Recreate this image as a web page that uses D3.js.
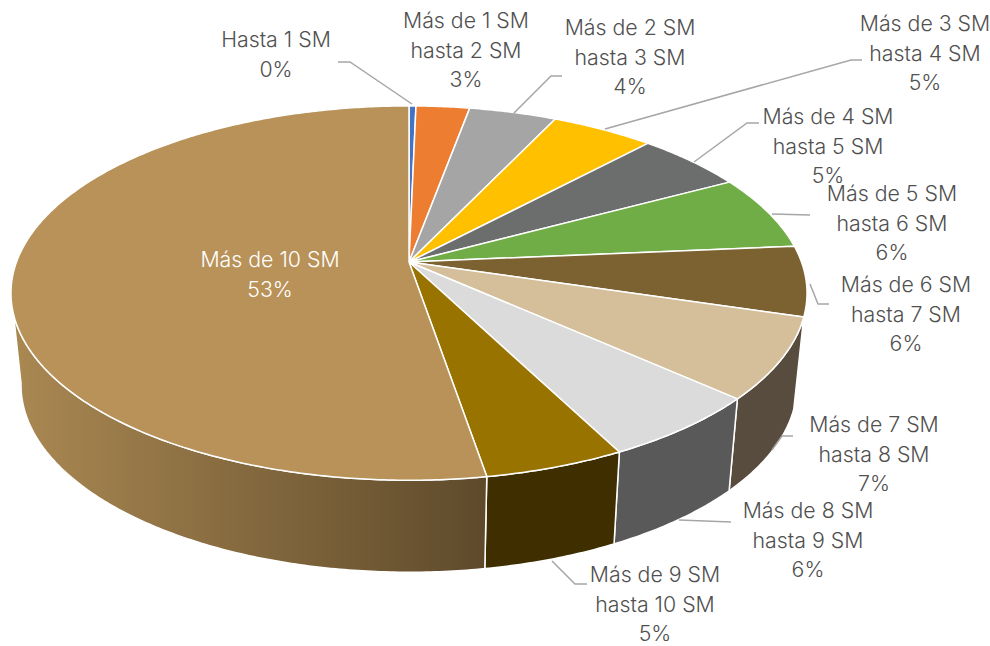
<!DOCTYPE html>
<html>
<head>
<meta charset="utf-8">
<style>
  body { margin: 0; background: #fff; }
  text { font-family: Inter, sans-serif; font-weight: 300; font-size: 21.3px; }
</style>
<script src="https://cdn.jsdelivr.net/npm/d3@7"></script>
</head>
<body>
<div id="chart"></div>
<script>
const categories = [
  ['Hasta 1 SM'],
  ['Más de 1 SM', 'hasta 2 SM'],
  ['Más de 2 SM', 'hasta 3 SM'],
  ['Más de 3 SM', 'hasta 4 SM'],
  ['Más de 4 SM', 'hasta 5 SM'],
  ['Más de 5 SM', 'hasta 6 SM'],
  ['Más de 6 SM', 'hasta 7 SM'],
  ['Más de 7 SM', 'hasta 8 SM'],
  ['Más de 8 SM', 'hasta 9 SM'],
  ['Más de 9 SM', 'hasta 10 SM'],
  ['Más de 10 SM']
]
const shares = [0.33, 2.55, 4.17, 4.9, 5.2, 6.45, 6.05, 7.0, 5.8, 4.9, 52.65]
const topColors = ['#4472c4', '#ed7d31', '#a5a5a5', '#ffc000', '#6c6e6d', '#70ad47',
  '#7c6230', '#d5be9a', '#dbdbdb', '#997300', '#b89259']
const wallColors = ['#2a4578', '#8f4b1c', '#646464', '#9c7500', '#414342', '#446a2b',
  '#4b3b1d', '#584c3e', '#595959', '#3f2f00', 'url(#mainWall)']

// where the labels and their leader lines were placed by hand
const labelCenters = [[276, 40], [466, 21], [630, 28], [925, 24], [828, 117], [892, 194],
  [906, 285], [874, 425], [808, 511], [655, 575], [270, 260]]
const leaders = [
  [[338, 62], [350, 62], [412, 104]],
  null,
  [[562, 76], [551, 76], [514, 113]],
  [[862, 60], [851, 60], [605, 129]],
  [[759, 123], [747, 123], [694, 162]],
  [[810, 215], [772, 214]],
  [[829, 304], [818, 304], [810, 284]],
  [[793, 436], [782, 436], [772, 450]],
  [[731, 522], [679, 520]],
  [[587, 584], [575, 584], [552, 561]],
  null
]

const width = 990
const height = 646
const cx = 409
const topY = 262
const wallDepth = 92
const persp = 0.166
const scaleY = 182
const topScaleX = 392.5
const bottomScaleX = 382.6
const wallFrom = 99 * Math.PI / 180
const wallTo = 261 * Math.PI / 180

// a point on the tilted disc, seen with some perspective
function project (a, y0, sx) {
  const n = -Math.cos(a)
  const w = 1 - persp * n
  return [cx + sx * Math.sin(a) / w, y0 + scaleY * n / w]
}

function arcPoints (a0, a1, y0, sx) {
  const steps = Math.max(2, Math.ceil((a1 - a0) / 0.01))
  return d3.range(steps + 1).map(i => project(a0 + (a1 - a0) * i / steps, y0, sx))
}

const slices = d3.pie().sort(null)(shares)
const line = d3.line()
const percent = d3.format('.0f')

const svg = d3.select('#chart').append('svg')
  .attr('width', width)
  .attr('height', height)

const grad = svg.append('defs').append('linearGradient')
  .attr('id', 'mainWall')
  .attr('gradientUnits', 'userSpaceOnUse')
  .attr('x1', 13).attr('x2', 485).attr('y1', 0).attr('y2', 0)
grad.append('stop').attr('offset', 0).attr('stop-color', '#aa8852')
grad.append('stop').attr('offset', 1).attr('stop-color', '#5e4a2b')

// walls first, the top of the pie covers their upper edge
svg.append('g').selectAll('path')
  .data(slices.filter(d => d.endAngle > wallFrom && d.startAngle < wallTo))
  .enter()
  .append('path')
  .attr('d', d => {
    const a0 = Math.max(d.startAngle, wallFrom)
    const a1 = Math.min(d.endAngle, wallTo)
    return line(arcPoints(a0, a1, topY, topScaleX)
      .concat(arcPoints(a0, a1, topY + wallDepth, bottomScaleX).reverse())) + 'Z'
  })
  .attr('fill', d => wallColors[d.index])
  .attr('stroke', '#fff')
  .attr('stroke-width', 1.5)
  .attr('stroke-linejoin', 'round')

svg.append('g').selectAll('path')
  .data(slices)
  .enter()
  .append('path')
  .attr('d', d => line([[cx, topY]].concat(arcPoints(d.startAngle, d.endAngle, topY, topScaleX))) + 'Z')
  .attr('fill', d => topColors[d.index])
  .attr('stroke', '#fff')
  .attr('stroke-width', 1.5)
  .attr('stroke-linejoin', 'round')

svg.append('g').selectAll('path')
  .data(leaders.filter(d => d))
  .enter()
  .append('path')
  .attr('d', d => line(d))
  .attr('fill', 'none')
  .attr('stroke', '#a6a6a6')
  .attr('stroke-width', 1.5)

const labels = svg.append('g').selectAll('text')
  .data(slices)
  .enter()
  .append('text')
  .attr('text-anchor', 'middle')
  .attr('fill', d => d.index === 10 ? '#fff' : '#505050')

labels.selectAll('tspan')
  .data(d => categories[d.index].concat(percent(d.data) + '%').map(t => ({ t, i: d.index })))
  .enter()
  .append('tspan')
  .attr('x', d => labelCenters[d.i][0])
  .attr('y', (d, j) => labelCenters[d.i][1] + j * 29.5)
  .attr('dy', '0.35em')
  .text(d => d.t)
</script>
</body>
</html>
